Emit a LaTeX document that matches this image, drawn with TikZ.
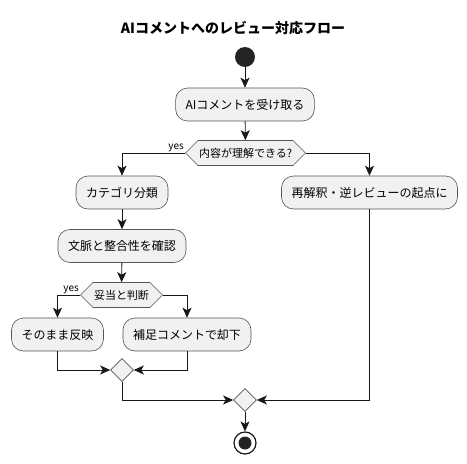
\documentclass[tikz,border=0pt]{standalone}
\usepackage{fontspec}
\setmainfont{Noto Sans CJK JP}
\usetikzlibrary{arrows.meta,shapes.geometric,shapes.symbols}
\definecolor{boxfill}{HTML}{F1F1F1}
\definecolor{linecol}{HTML}{181818}
\definecolor{bordercol}{HTML}{555555}
\begin{document}
\begin{tikzpicture}[x=1pt,y=-1pt,
  act/.style={draw=bordercol,line width=0.6pt,fill=boxfill,rounded corners=12pt,
    minimum height=33pt,inner xsep=10pt,font=\fontsize{12}{14}\selectfont},
  dec/.style={draw=bordercol,line width=0.6pt,fill=boxfill,signal,signal to=west and east,
    signal pointer angle=90,minimum height=25pt,inner xsep=1pt,inner ysep=2pt,
    font=\fontsize{11}{13}\selectfont},
  merge/.style={draw=bordercol,line width=0.6pt,fill=boxfill,diamond,minimum size=23pt,inner sep=0pt},
  conn/.style={draw=linecol,line width=0.9pt},
  arr/.style={conn,-{Stealth[length=10pt,width=9pt,inset=2.5pt]}},
  lbl/.style={font=\fontsize{10}{12}\selectfont,inner sep=1pt,anchor=south east}
]
\useasboundingbox (0,0) rectangle (467,464);
\node (title) at (233,28) {\fontsize{14}{16}\selectfont\bfseries AIコメントへのレビュー対応フロー};
\node[circle,fill=linecol!95!white,minimum size=20pt,inner sep=0pt] (start) at (245,57) {};
\node[act] (b1) at (245,104.5) {AIコメントを受け取る};
\node[dec] (d1) at (245.5,153) {内容が理解できる?};
\node[act] (cat) at (122,192.5) {カテゴリ分類};
\node[act] (re) at (369.5,192.5) {再解釈・逆レビューの起点に};
\node[act] (ctx) at (122,246) {文脈と整合性を確認};
\node[dec] (d2) at (121.5,295) {妥当と判断};
\node[act] (keep) at (57.5,334.5) {そのまま反映};
\node[act] (rej) at (187,334.5) {補足コメントで却下};
\node[merge] (m1) at (122,370) {};
\node[merge] (m2) at (245,400) {};
\node[circle,draw=linecol,line width=1.2pt,fill=white,minimum size=22pt,inner sep=0pt] (endo) at (245,443) {};
\node[circle,fill=linecol!95!white,minimum size=13pt,inner sep=0pt] (endi) at (245,443) {};

\draw[arr] (start) -- (b1);
\draw[arr] (b1) -- (d1);
\draw[arr] (d1.west) -| (cat.north);
\node[lbl] (y1) at (d1.west) {yes};
\draw[arr] (d1.east) -| (re.north);
\draw[arr] (cat) -- (ctx);
\draw[arr] (ctx) -- (d2);
\draw[arr] (d2.west) -| (keep.north);
\node[lbl] (y2) at (d2.west) {yes};
\draw[arr] (d2.east) -| (rej.north);
\draw[arr] (keep.south) |- (m1.west);
\draw[arr] (rej.south) |- (m1.east);
\draw[arr] (m1.south) |- (m2.west);
\draw[arr] (re.south) |- (m2.east);
\draw[arr] (m2) -- (endo);
\end{tikzpicture}
\end{document}
